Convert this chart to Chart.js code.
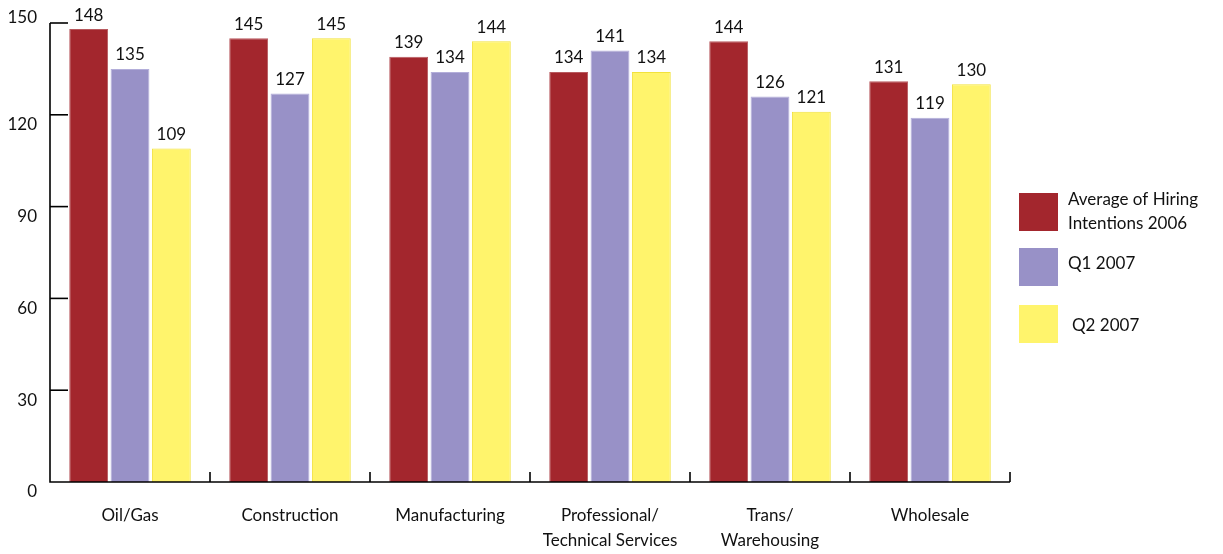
<!DOCTYPE html>
<html>
<head>
<meta charset="utf-8">
<script src="https://cdn.jsdelivr.net/npm/chart.js@4/dist/chart.umd.min.js"></script>
<style>
  html, body { margin: 0; padding: 0; background: #fff; }
  #wrap { width: 1223px; height: 554px; }
</style>
</head>
<body>
<div id="wrap"><canvas id="c" width="1223" height="554"></canvas></div>
<script>
// Hiring intentions by industry
const categories = [
  ['Oil/Gas'],
  ['Construction'],
  ['Manufacturing'],
  ['Professional/', 'Technical Services'],
  ['Trans/', 'Warehousing'],
  ['Wholesale']
];
const avg2006 = [148, 145, 139, 134, 144, 131];
const q1_2007 = [135, 127, 134, 141, 126, 119];
const q2_2007 = [109, 145, 144, 134, 121, 130];
const yTicks = [0, 30, 60, 90, 120, 150];
const seriesNames = [['Average of Hiring', 'Intentions 2006'], ['Q1 2007'], ['Q2 2007']];

const FONT = 'Lato, "Open Sans", sans-serif';

// Axes, ticks, value labels and legend drawn on top of the bars
const decorations = {
  id: 'decorations',
  afterDatasetsDraw(chart) {
    const { ctx, chartArea, scales } = chart;
    const x = scales.x, y = scales.y;
    ctx.save();
    ctx.strokeStyle = '#000';
    ctx.lineWidth = 1.6;

    // axis lines
    ctx.beginPath();
    ctx.moveTo(chartArea.left, y.getPixelForValue(150));
    ctx.lineTo(chartArea.left, chartArea.bottom);
    ctx.lineTo(chartArea.right, chartArea.bottom);
    ctx.stroke();

    // y ticks point into the plot, y labels sit a little below each tick
    ctx.fillStyle = '#111';
    ctx.font = '17px ' + FONT;
    ctx.textAlign = 'right';
    ctx.textBaseline = 'middle';
    yTicks.forEach((v, i) => {
      const py = y.getPixelForValue(v);
      if (v > 0) {
        ctx.beginPath();
        ctx.moveTo(chartArea.left, py);
        ctx.lineTo(chartArea.left + 18, py);
        ctx.stroke();
      }
      const off = (i === yTicks.length - 1) ? -5 : 10;
      ctx.fillText(String(v), 37, py + off);
    });

    // x ticks at category boundaries, pointing up
    const n = categories.length;
    const step = (chartArea.right - chartArea.left) / n;
    for (let i = 1; i <= n; i++) {
      const px = x.getPixelForValue(i - 1) + step / 2;
      ctx.beginPath();
      ctx.moveTo(px, chartArea.bottom);
      ctx.lineTo(px, chartArea.bottom - 10);
      ctx.stroke();
    }

    // category labels
    ctx.textAlign = 'center';
    categories.forEach((lines, i) => {
      const px = x.getPixelForValue(i);
      lines.forEach((t, j) => ctx.fillText(t, px, chartArea.bottom + 34 + j * 25));
    });

    // value labels above bars
    chart.data.datasets.forEach((ds, di) => {
      const meta = chart.getDatasetMeta(di);
      meta.data.forEach((bar, i) => {
        ctx.fillText(String(ds.data[i]), bar.x, bar.y - 14);
      });
    });

    // legend
    const boxes = [193, 248, 305];
    const textY = [[200, 224], [264], [326]];
    const textX = [1068, 1068, 1072];
    ctx.textAlign = 'left';
    chart.data.datasets.forEach((ds, di) => {
      ctx.fillStyle = ds.backgroundColor;
      ctx.fillRect(1019, boxes[di], 39, 38);
      ctx.fillStyle = '#111';
      seriesNames[di].forEach((t, j) => ctx.fillText(t, textX[di], textY[di][j]));
    });
    ctx.restore();
  }
};

new Chart(document.getElementById('c'), {
  type: 'bar',
  data: {
    labels: categories.map(c => c.join(' ')),
    datasets: [
      { label: seriesNames[0].join(' '), data: avg2006, backgroundColor: '#A3262D', borderColor: '#B85A5F', borderWidth: 1 },
      { label: seriesNames[1].join(' '), data: q1_2007, backgroundColor: '#9891C7', borderColor: '#B3AEDA', borderWidth: 1 },
      { label: seriesNames[2].join(' '), data: q2_2007, backgroundColor: '#FFF46C', borderColor: '#F2E23C', borderWidth: 1 }
    ]
  },
  options: {
    responsive: false,
    animation: false,
    events: [],
    layout: { padding: { left: 50, right: 213, top: 23, bottom: 72 } },
    datasets: { bar: { categoryPercentage: 0.775, barPercentage: 0.94 } },
    plugins: { legend: { display: false }, tooltip: { enabled: false } },
    scales: {
      x: { display: false, offset: true },
      y: { display: false, min: 0, max: 150 }
    }
  },
  plugins: [decorations]
});
</script>
</body>
</html>
